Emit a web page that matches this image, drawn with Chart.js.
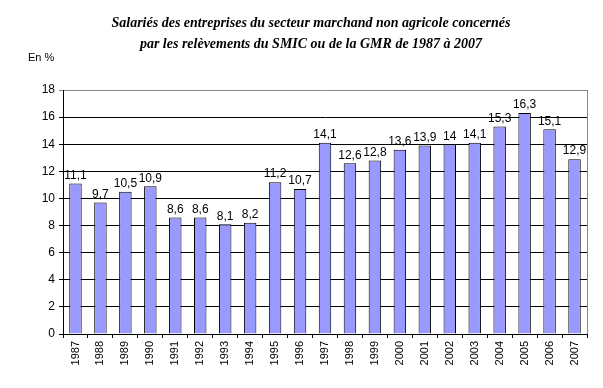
<!DOCTYPE html>
<html>
<head>
<meta charset="utf-8">
<script src="https://cdn.jsdelivr.net/npm/chart.js@4"></script>
<style>
  html, body { margin: 0; padding: 0; background: #fff; }
  #wrap { width: 603px; height: 388px; }
</style>
</head>
<body>
<div id="wrap"><canvas id="smicChart" width="603" height="388"></canvas></div>
<script>
// Data
const years = ["1987","1988","1989","1990","1991","1992","1993","1994","1995","1996","1997",
  "1998","1999","2000","2001","2002","2003","2004","2005","2006","2007"];
const shares = [11.1, 9.7, 10.5, 10.9, 8.6, 8.6, 8.1, 8.2, 11.2, 10.7, 14.1,
  12.6, 12.8, 13.6, 13.9, 14, 14.1, 15.3, 16.3, 15.1, 12.9];
const titleLines = [
  "Salariés des entreprises du secteur marchand non agricole concernés",
  "par les relèvements du SMIC ou de la GMR de 1987 à 2007"
];
const unitLabel = "En %";

// Title, unit and value labels
const decorations = {
  id: "decorations",
  afterDatasetsDraw(chart) {
    const c = chart.ctx;
    c.save();
    c.fillStyle = "#000";
    c.textAlign = "center";
    c.textBaseline = "middle";
    c.font = "italic bold 14px 'Liberation Serif', 'Times New Roman', serif";
    c.fillText(titleLines[0], 311, 23);
    c.fillText(titleLines[1], 311, 44);

    c.font = "11px 'Liberation Sans', Arial, sans-serif";
    c.textAlign = "left";
    c.fillText(unitLabel, 28, 58);

    const meta = chart.getDatasetMeta(0);
    c.font = "12px 'Liberation Sans', Arial, sans-serif";
    c.textAlign = "center";
    c.textBaseline = "bottom";
    meta.data.forEach((bar, i) => {
      c.fillText(String(shares[i]).replace(".", ","), bar.x, bar.y - 2);
    });
    c.restore();
  }
};

new Chart(document.getElementById("smicChart").getContext("2d"), {
  type: "bar",
  data: {
    labels: years,
    datasets: [{
      data: shares,
      backgroundColor: "#9999ff",
      borderColor: "#000",
      borderWidth: 1,
      barPercentage: 0.5,
      categoryPercentage: 1
    }]
  },
  options: {
    responsive: false,
    animation: false,
    layout: { padding: { top: 90, right: 16, left: 0, bottom: 0 } },
    plugins: {
      legend: { display: false },
      title: { display: false },
      tooltip: { enabled: false }
    },
    scales: {
      x: {
        grid: { drawOnChartArea: false, color: "#000", tickLength: 4, offset: true },
        border: { color: "#000" },
        ticks: {
          color: "#000",
          minRotation: 90,
          maxRotation: 90,
          autoSkip: false,
          padding: 3,
          font: { family: "'Liberation Sans', Arial, sans-serif", size: 11 }
        },
        afterFit(scale) { scale.height = 54; }
      },
      y: {
        min: 0,
        max: 18,
        ticks: {
          stepSize: 2,
          color: "#000",
          padding: 4,
          font: { family: "'Liberation Sans', Arial, sans-serif", size: 12 }
        },
        grid: {
          color: ctx => ctx.tick && ctx.tick.value === 18 ? "#888" : "#000",
          tickLength: 4
        },
        border: { color: "#000" },
        afterFit(scale) { scale.width = 63; }
      }
    }
  },
  plugins: [decorations, {
    id: "rightEdge",
    beforeDatasetsDraw(chart) {
      const a = chart.chartArea, c = chart.ctx;
      c.save();
      c.strokeStyle = "#888";
      c.lineWidth = 1;
      c.beginPath();
      c.moveTo(a.right + 0.5, a.top);
      c.lineTo(a.right + 0.5, a.bottom);
      c.stroke();
      c.restore();
    }
  }]
});
</script>
</body>
</html>
